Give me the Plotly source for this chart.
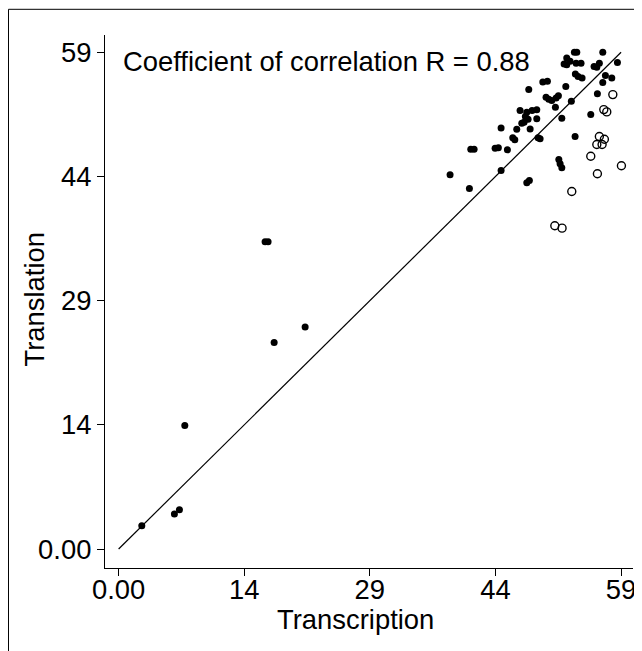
import plotly.graph_objects as go

# Filled points: (transcription, translation)
filled_x = [2.72, 6.55, 7.14, 7.77, 18.26, 21.90, 17.20, 17.55,
            38.92, 41.19, 41.35, 41.74, 44.21, 44.59, 44.91, 44.91, 45.65,
            46.28, 46.52, 46.75, 47.14, 47.93, 48.55, 49.10, 47.76, 48.08,
            47.34, 47.61, 49.10, 47.93, 48.23, 48.32, 49.25, 49.49, 49.81,
            50.35, 48.16, 50.19, 50.51, 50.86, 51.37, 51.64, 51.29, 51.69,
            51.84, 52.04, 52.04, 52.31, 52.62, 52.62, 52.51, 53.01, 53.16,
            53.52, 53.80, 53.72, 54.30, 53.63, 53.95, 54.42, 53.60, 55.44,
            55.83, 56.15, 56.22, 56.45, 56.85, 56.85, 57.16, 57.91, 58.57]
filled_y = [2.76, 4.15, 4.66, 14.67, 24.52, 26.37, 36.50, 36.50,
            44.45, 42.82, 47.49, 47.49, 47.60, 47.65, 44.96, 50.02, 47.41,
            48.84, 48.60, 49.86, 52.08, 51.87, 52.08, 52.16, 51.36, 51.04,
            50.57, 50.69, 51.09, 43.50, 43.77, 49.90, 48.84, 48.72, 55.48,
            55.55, 54.57, 53.65, 53.42, 53.26, 53.58, 53.85, 52.47, 46.26,
            45.75, 45.28, 51.16, 57.62, 57.53, 58.33, 54.92, 57.92, 53.18,
            58.99, 58.99, 57.69, 57.69, 56.43, 56.11, 55.95, 48.99, 51.60,
            57.30, 57.21, 54.06, 57.69, 58.99, 55.40, 56.23, 55.95, 57.77]

# Open points
open_x = [58.03, 56.97, 57.32, 56.45, 57.04, 56.15, 56.77, 55.44, 59.04,
          56.22, 53.21, 51.22, 52.07]
open_y = [53.97, 52.19, 51.92, 48.99, 48.67, 48.04, 48.04, 46.65, 45.52,
          44.57, 42.47, 38.40, 38.11]

line_x = [0, 59]
line_y = [0, 59]

tick_vals = [0, 14.75, 29.5, 44.25, 59]
tick_text = ["0.00", "14", "29", "44", "59"]

FONT = "Liberation Sans, Arial, sans-serif"
FS = 27.4

fig = go.Figure()
fig.add_trace(go.Scatter(x=line_x, y=line_y, mode="lines",
                         line=dict(color="black", width=1.2),
                         showlegend=False, hoverinfo="skip"))
fig.add_trace(go.Scatter(x=filled_x, y=filled_y, mode="markers",
                         marker=dict(symbol="circle", size=7, color="black",
                                     line=dict(width=0)),
                         showlegend=False))
fig.add_trace(go.Scatter(x=open_x, y=open_y, mode="markers",
                         marker=dict(symbol="circle-open", size=8, color="black",
                                     line=dict(width=1.4, color="black")),
                         showlegend=False))

axis_common = dict(showgrid=False, zeroline=False, showline=True,
                   linecolor="black", linewidth=1.2, ticks="outside",
                   ticklen=7, tickwidth=1.2, tickcolor="black",
                   tickmode="array", tickvals=tick_vals, ticktext=tick_text,
                   tickfont=dict(family=FONT, size=FS, color="black"),
                   mirror=False, automargin=False)

fig.update_layout(
    width=642, height=651,
    margin=dict(l=97, r=17, t=27, b=91),
    paper_bgcolor="white", plot_bgcolor="white",
    font=dict(family=FONT, size=FS, color="black"),
    xaxis=dict(range=[-1.6, 60.4], ticklabelstandoff=-10, **axis_common),
    yaxis=dict(range=[-2.25, 61.05], **axis_common),
    annotations=[
        dict(xref="paper", yref="paper", x=0.0303, y=0.951,
             xanchor="left", yanchor="middle", showarrow=False,
             text="Coefficient of correlation R = 0.88",
             font=dict(family=FONT, size=FS, color="black")),
        dict(xref="paper", yref="paper", x=0.4735, y=-0.0958,
             xanchor="center", yanchor="middle", showarrow=False,
             text="Transcription",
             font=dict(family=FONT, size=FS, color="black")),
        dict(xref="paper", yref="paper", x=-0.1354, y=0.5028,
             xanchor="center", yanchor="middle", showarrow=False,
             textangle=-90, text="Translation",
             font=dict(family=FONT, size=FS, color="black")),
    ],
    shapes=[dict(type="rect", xref="paper", yref="paper",
                 x0=-0.18277, x1=1.05, y0=-0.19, y1=1.04822,
                 line=dict(color="black", width=1), layer="below")],
)

fig.write_html("out.html")
